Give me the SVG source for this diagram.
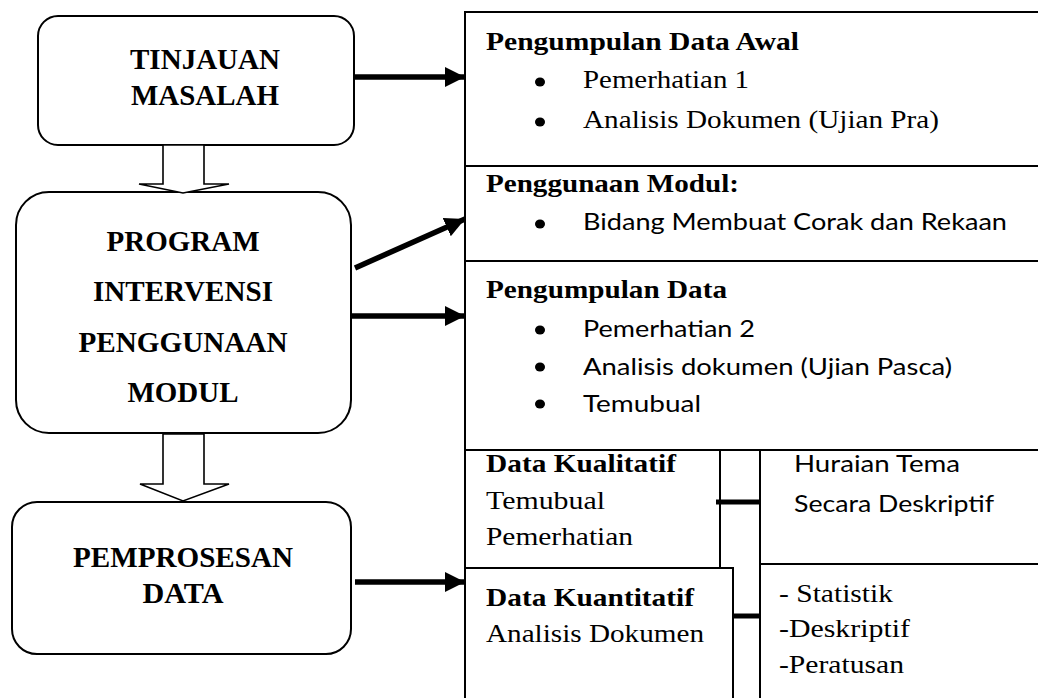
<svg xmlns="http://www.w3.org/2000/svg" width="1038" height="698" viewBox="0 0 1038 698">
<style>
.box{fill:#fff;stroke:#000;stroke-width:2}
.ln{fill:none;stroke:#000;stroke-width:2}
.blk{fill:#fff;stroke:#000;stroke-width:1.6;stroke-linejoin:miter}
.arr{fill:none;stroke:#000;stroke-width:5.5;marker-end:url(#ah)}
.thick{fill:none;stroke:#000;stroke-width:5}
.hl{font-family:"Liberation Serif","Times New Roman",serif;font-weight:bold;font-size:29px;text-anchor:middle;fill:#000}
.hr{font-family:"Liberation Serif","Times New Roman",serif;font-weight:bold;font-size:25px;fill:#000}
.tr{font-family:"Liberation Serif","Times New Roman",serif;font-size:25px;fill:#000}
.sn{font-family:Lato,"Noto Sans",sans-serif;font-size:23px;fill:#000}
.bul{fill:#000}
</style>
<defs>
<marker id="ah" markerUnits="userSpaceOnUse" markerWidth="20" markerHeight="20" viewBox="0 0 18 18" refX="18" refY="9" orient="auto">
<path d="M0,0 L18,9 L0,18 Z" fill="#000"/>
</marker>
</defs>

<g id="right-frame">
<rect class="box" x="465" y="12" width="580" height="700"/>
<line class="ln" x1="465" y1="166" x2="1040" y2="166"/>
<line class="ln" x1="465" y1="261" x2="1040" y2="261"/>
<line class="ln" x1="465" y1="450" x2="1040" y2="450"/>
</g>

<g id="tinjauan">
<rect class="box" x="38" y="16" width="316" height="129" rx="20" ry="20"/>
<text class="hl" x="205" y="69" textLength="150" lengthAdjust="spacingAndGlyphs">TINJAUAN</text>
<text class="hl" x="205" y="105" textLength="148" lengthAdjust="spacingAndGlyphs">MASALAH</text>
</g>

<g id="program">
<rect class="box" x="16" y="192" width="335" height="241" rx="33" ry="33"/>
<text class="hl" x="183" y="251" textLength="153" lengthAdjust="spacingAndGlyphs">PROGRAM</text>
<text class="hl" x="183" y="301" textLength="180" lengthAdjust="spacingAndGlyphs">INTERVENSI</text>
<text class="hl" x="183" y="352" textLength="209" lengthAdjust="spacingAndGlyphs">PENGGUNAAN</text>
<text class="hl" x="183" y="402" textLength="111" lengthAdjust="spacingAndGlyphs">MODUL</text>
</g>

<g id="pemprosesan">
<rect class="box" x="12" y="502" width="339" height="152" rx="25" ry="25"/>
<text class="hl" x="183" y="567" textLength="220" lengthAdjust="spacingAndGlyphs">PEMPROSESAN</text>
<text class="hl" x="183" y="603" textLength="81" lengthAdjust="spacingAndGlyphs">DATA</text>
</g>

<g id="pengumpulan-awal">
<text class="hr" x="486" y="50" textLength="313" lengthAdjust="spacingAndGlyphs">Pengumpulan Data Awal</text>
<ellipse class="bul" cx="540" cy="82" rx="5" ry="4.5"/>
<text class="tr" x="583" y="88" textLength="166" lengthAdjust="spacingAndGlyphs">Pemerhatian 1</text>
<ellipse class="bul" cx="540" cy="122" rx="5" ry="4.5"/>
<text class="tr" x="583" y="128" textLength="356" lengthAdjust="spacingAndGlyphs">Analisis Dokumen (Ujian Pra)</text>
</g>

<g id="penggunaan-modul">
<text class="hr" x="486" y="192" textLength="253" lengthAdjust="spacingAndGlyphs">Penggunaan Modul:</text>
<ellipse class="bul" cx="540" cy="224" rx="5" ry="4.5"/>
<text class="sn" x="583" y="230" textLength="424" lengthAdjust="spacingAndGlyphs">Bidang Membuat Corak dan Rekaan</text>
</g>

<g id="pengumpulan-data">
<text class="hr" x="486" y="298" textLength="241" lengthAdjust="spacingAndGlyphs">Pengumpulan Data</text>
<ellipse class="bul" cx="540" cy="330" rx="5" ry="4.5"/>
<text class="sn" x="583" y="337" textLength="172" lengthAdjust="spacingAndGlyphs">Pemerhatian 2</text>
<ellipse class="bul" cx="540" cy="367" rx="5" ry="4.5"/>
<text class="sn" x="583" y="375" textLength="369" lengthAdjust="spacingAndGlyphs">Analisis dokumen (Ujian Pasca)</text>
<ellipse class="bul" cx="540" cy="404" rx="5" ry="4.5"/>
<text class="sn" x="583" y="412" textLength="118" lengthAdjust="spacingAndGlyphs">Temubual</text>
</g>

<g id="kualitatif">
<rect class="box" x="465" y="450" width="255" height="118"/>
<text class="hr" x="486" y="472" textLength="190" lengthAdjust="spacingAndGlyphs">Data Kualitatif</text>
<text class="tr" x="486" y="509" textLength="119" lengthAdjust="spacingAndGlyphs">Temubual</text>
<text class="tr" x="486" y="545" textLength="147" lengthAdjust="spacingAndGlyphs">Pemerhatian</text>
</g>

<g id="huraian">
<rect class="box" x="760" y="450" width="290" height="114"/>
<text class="sn" x="794" y="472" textLength="166" lengthAdjust="spacingAndGlyphs">Huraian Tema</text>
<text class="sn" x="794" y="512" textLength="200" lengthAdjust="spacingAndGlyphs">Secara Deskriptif</text>
</g>

<g id="kuantitatif">
<rect class="box" x="465" y="568" width="268" height="140"/>
<text class="hr" x="486" y="606" textLength="208" lengthAdjust="spacingAndGlyphs">Data Kuantitatif</text>
<text class="tr" x="486" y="642" textLength="218" lengthAdjust="spacingAndGlyphs">Analisis Dokumen</text>
</g>

<g id="statistik">
<rect class="box" x="760" y="564" width="290" height="144"/>
<text class="tr" x="779" y="602" textLength="114" lengthAdjust="spacingAndGlyphs">- Statistik</text>
<text class="tr" x="779" y="637" textLength="131" lengthAdjust="spacingAndGlyphs">-Deskriptif</text>
<text class="tr" x="779" y="673" textLength="125" lengthAdjust="spacingAndGlyphs">-Peratusan</text>
</g>

<g id="connectors">
<polygon class="blk" points="163,145 163,184 139,184 183,193 229,184 204,184 204,145"/>
<polygon class="blk" points="163,434 163,484 140,484 183,501 229,484 204,484 204,434"/>
<line class="arr" x1="355" y1="77" x2="465" y2="77"/>
<line class="arr" x1="355" y1="268" x2="465" y2="219"/>
<line class="arr" x1="351" y1="316" x2="465" y2="316"/>
<line class="arr" x1="355" y1="582" x2="465" y2="582"/>
<line class="thick" x1="716" y1="502" x2="760" y2="502"/>
<line class="thick" x1="733" y1="616" x2="760" y2="616"/>
</g>
</svg>
